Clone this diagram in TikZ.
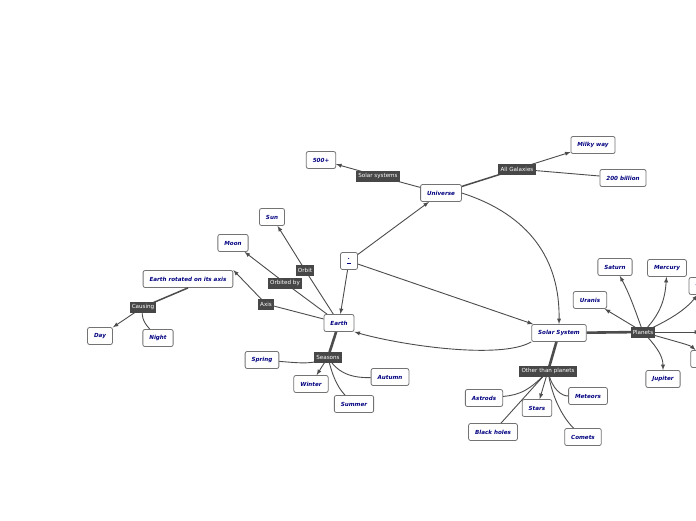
\documentclass[tikz,border=0pt]{standalone}
\usepackage{fontspec}
\setmainfont{DejaVu Sans}
\begin{document}
\begin{tikzpicture}[x=1pt,y=-1pt,
 box/.style={draw=black!55,line width=0.8pt,rounded corners=2pt,fill=white,font=\fontsize{5.6}{6.5}\selectfont\bfseries\itshape,text=blue!50!black,minimum height=17pt,inner xsep=6.5pt},
 lab/.style={fill=black!72,text=white,font=\fontsize{5.6}{6.5}\selectfont,inner sep=2.2pt,minimum height=11pt},
 ln/.style={draw=black!70,line width=0.9pt},
 ar/.style={ln,-latex},
 thick2/.style={draw=black!70,line width=2.6pt}]
\useasboundingbox (0,0) rectangle (696,520);
\begin{scope}
\clip (0,0) rectangle (696,520);
\node[box] (c) at (349,261) {\underline{\,\raisebox{2pt}{.}\,}};
\node[box] (uni) at (441,193) {Universe};
\node[box] (f500) at (321,160) {500+};
\node[box] (milky) at (593,145) {Milky way};
\node[box] (b200) at (623,178) {200 billion};
\node[box] (sun) at (272,217) {Sun};
\node[box] (moon) at (233,243) {Moon};
\node[box] (rot) at (188,279) {Earth rotated on its axis};
\node[box] (day) at (100,336) {Day};
\node[box] (night) at (158,338) {Night};
\node[box] (earth) at (339,323) {Earth};
\node[box] (spring) at (262,360) {Spring};
\node[box] (winter) at (311,384) {Winter};
\node[box] (autumn) at (390,377) {Autumn};
\node[box] (summer) at (354,404) {Summer};
\node[box] (ss) at (559,333) {Solar System};
\node[box] (saturn) at (615,267) {Saturn};
\node[box] (mercury) at (667,268) {Mercury};
\node[box] (uranis) at (590,300) {Uranis};
\node[box] (venus) at (705,286) {Venus};
\node[box] (mars) at (705,359) {Mars};
\node[box] (jupiter) at (663,379) {Jupiter};
\node[box] (astrods) at (484,398) {Astrods};
\node[box] (stars) at (537,408) {Stars};
\node[box] (meteors) at (588,396) {Meteors};
\node[box] (black) at (493,432) {Black holes};
\node[box] (comets) at (583,437) {Comets};
\coordinate (redge) at (700,332);
% connectors
\draw[ln] (uni) -- (378,176); \draw[ar] (378,176) -- (f500);
\draw[draw=black!70,line width=1.5pt] (uni) -- (517,169);
\draw[ar] (517,169) -- (milky);
\draw[ln] (517,169) -- (b200);
\draw[ar] (c) -- (uni);
\draw[ar] (c) -- (earth);
\draw[ar] (c) -- (ss);
\draw[ar] (uni.east) .. controls (530,215) and (560,260) .. (ss.north);
\draw[ar] (ss.south west) .. controls (500,360) and (400,345) .. (earth.south east);
\draw[ln] (earth) -- (305,270); \draw[ar] (305,270) -- (sun);
\draw[ln] (earth) -- (285,283); \draw[ar] (285,283) -- (moon);
\draw[ln] (earth) -- (266,304); \draw[ar] (266,304) -- (rot.north east);
\draw[line width=1.5pt,draw=black!70] (rot.south) -- (143,307);
\draw[ar] (143,307) -- (day);
\draw[ln] (143,307) .. controls (140,318) and (146,325) .. (night);
\draw[thick2] (earth) -- (328,357);
\draw[ln] (328,357) .. controls (315,365) and (300,363) .. (spring);
\draw[ar] (328,357) -- (winter);
\draw[ln] (328,357) .. controls (338,375) and (355,378) .. (autumn);
\draw[ln] (328,357) .. controls (333,380) and (340,390) .. (summer);
\draw[thick2] (ss) -- (643,332);
\draw[ar] (643,332) -- (uranis);
\draw[ar] (643,332) .. controls (635,310) and (630,295) .. (saturn);
\draw[ar] (643,332) .. controls (660,315) and (665,300) .. (mercury);
\draw[ar] (643,332) .. controls (670,320) and (685,310) .. (venus);
\draw[ar] (643,332) -- (redge);
\draw[ar] (643,332) .. controls (670,340) and (690,345) .. (mars);
\draw[ar] (643,332) .. controls (655,345) and (663,355) .. (jupiter);
\draw[thick2] (ss) -- (548,371);
\draw[ln] (548,371) .. controls (530,390) and (520,395) .. (astrods);
\draw[ar] (548,371) -- (stars);
\draw[ln] (548,371) .. controls (552,390) and (562,396) .. (meteors);
\draw[ln] (548,371) -- (black);
\draw[ln] (548,371) .. controls (552,400) and (565,420) .. (comets);
% labels
\node[lab] at (378,176) {Solar systems};
\node[lab] at (517,169) {All Galaxies};
\node[lab] at (305,270) {Orbit};
\node[lab] at (285,283) {Orbited by};
\node[lab] at (266,304) {Axis};
\node[lab] at (143,307) {Causing};
\node[lab] at (328,357) {Seasons};
\node[lab] at (548,371) {Other than planets};
\node[lab] at (643,332) {Planets};
\end{scope}
\end{tikzpicture}
\end{document}
